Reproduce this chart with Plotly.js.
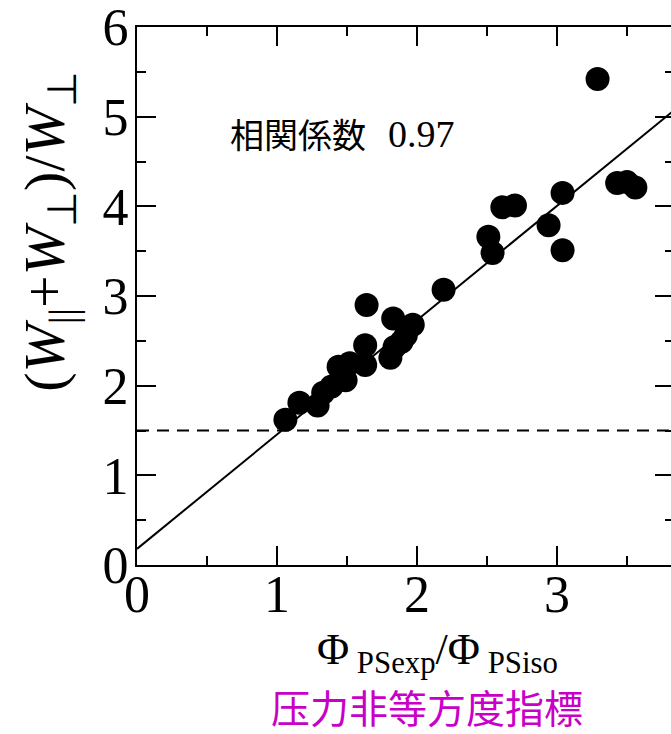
<!DOCTYPE html>
<html>
<head>
<meta charset="utf-8">
<script src="https://cdn.plot.ly/plotly-3.0.1.min.js"></script>
<style>
html, body { margin: 0; padding: 0; overflow: hidden; background: #fff; }
#chart { width: 682px; height: 734px; }
</style>
</head>
<body>
<div id="chart"></div>
<script>
// Measured data (Φ_PSexp/Φ_PSiso vs (W∥+W⊥)/W⊥)
const anisotropyIndex = [1.06, 1.16, 1.29, 1.33, 1.39, 1.49, 1.44, 1.52, 1.63, 1.63, 1.64, 1.81, 1.84, 1.89, 1.92, 1.83, 1.97, 2.19, 2.51, 2.54, 2.61, 2.70, 2.94, 3.04, 3.04, 3.29, 3.43, 3.50, 3.56];
const energyRatio     = [1.62, 1.81, 1.78, 1.92, 1.99, 2.06, 2.21, 2.25, 2.23, 2.45, 2.90, 2.31, 2.43, 2.49, 2.56, 2.75, 2.68, 3.07, 3.66, 3.48, 3.99, 4.01, 3.79, 4.15, 3.51, 5.42, 4.26, 4.27, 4.21];

// Regression line
const fitIntercept = 0.18;
const fitSlope = 1.275;
const fitX = [0, 3.9];
const fitY = fitX.map(v => fitIntercept + fitSlope * v);

// Reference (isotropic) level
const thresholdX = [0, 3.9];
const thresholdY = [1.5, 1.5];

const xTickVals = [0, 1, 2, 3];
const yTickVals = [0, 1, 2, 3, 4, 5, 6];
const corrLabel = "相関係数";
const corrValue = "0.97";

const serif = "Liberation Serif, Times New Roman, serif";

const traces = [
  { x: thresholdX, y: thresholdY, mode: "lines", line: { color: "#000", width: 2, dash: "12px,8px" }, hoverinfo: "skip" },
  { x: fitX, y: fitY, mode: "lines", line: { color: "#000", width: 2 }, hoverinfo: "skip" },
  { x: anisotropyIndex, y: energyRatio, mode: "markers", marker: { color: "#000", size: 24, line: { width: 0 } } }
];

const axisCommon = {
  showline: true, linecolor: "#000", linewidth: 2, mirror: "ticks",
  ticks: "inside", ticklen: 19, tickwidth: 2, tickcolor: "#000",
  showgrid: false, zeroline: false,
  ticklabeloverflow: "allow",
  tickfont: { family: serif, size: 52, color: "#000" },
  minor: { ticks: "inside", ticklen: 9, tickwidth: 2, tickcolor: "#000", dtick: 0.5, showgrid: false }
};

const layout = {
  width: 682, height: 734,
  margin: { l: 137, r: 8, t: 27, b: 169 },
  paper_bgcolor: "#fff", plot_bgcolor: "#fff",
  showlegend: false,
  xaxis: Object.assign({}, axisCommon, { range: [0, 3.836], tickvals: xTickVals, ticktext: xTickVals.map(String), ticklabelstandoff: -17 }),
  yaxis: Object.assign({}, axisCommon, { range: [0, 6], tickvals: yTickVals, ticktext: yTickVals.map(String), ticklabelstandoff: -4 }),
  annotations: [
    { xref: "x", yref: "y", x: 0.65, y: 4.81, xanchor: "left", yanchor: "middle", showarrow: false,
      text: corrLabel, font: { family: "Noto Sans CJK JP", size: 34, color: "#000" } },
    { xref: "x", yref: "y", x: 1.78, y: 4.81, xanchor: "left", yanchor: "middle", showarrow: false,
      text: corrValue, font: { family: serif, size: 38, color: "#000" } },
    { xref: "paper", yref: "paper", x: -0.165, y: 0.62, xanchor: "center", yanchor: "middle", showarrow: false, textangle: -90,
      text: "(<i>W</i><sub>||</sub>+<i>W</i><sub>⊥</sub>)/<i>W</i><sub>⊥</sub>", font: { family: serif, size: 58, color: "#000" } },
    { xref: "paper", yref: "paper", x: 0.56, y: -0.162, xanchor: "center", yanchor: "middle", showarrow: false,
      text: "Φ<sub> PSexp</sub>/Φ<sub> PSiso</sub>", font: { family: serif, size: 44, color: "#000" } },
    { xref: "paper", yref: "paper", x: 0.54, y: -0.262, xanchor: "center", yanchor: "middle", showarrow: false, borderpad: 0,
      text: "压力非等方度指標", font: { family: "Noto Sans CJK SC", size: 39, color: "#c800c8" } }
  ]
};

Plotly.newPlot("chart", traces, layout, { staticPlot: true, displayModeBar: false });
</script>
</body>
</html>
